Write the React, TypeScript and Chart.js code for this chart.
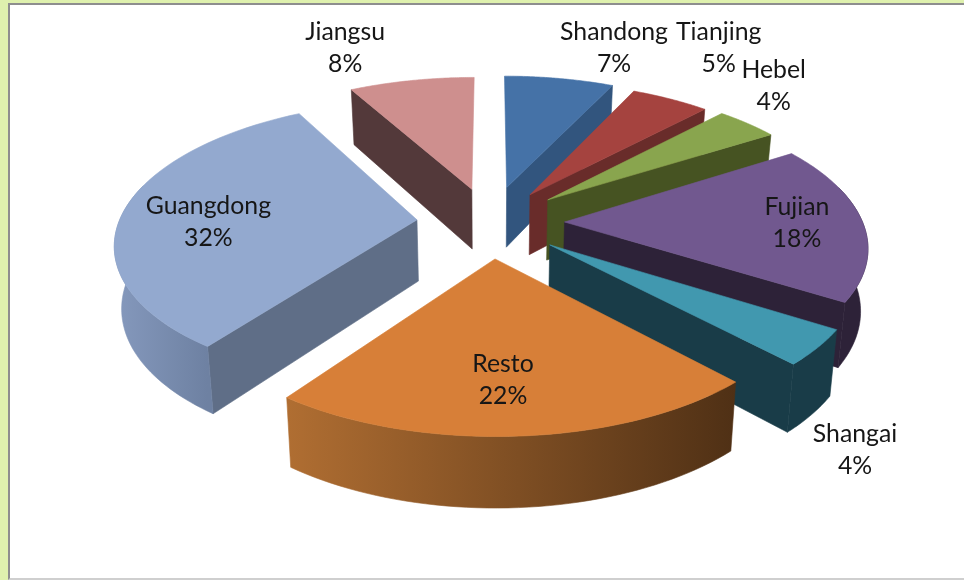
import React, { useEffect, useRef } from "react";
import { Chart, registerables } from "chart.js";

Chart.register(...registerables);

const provinces = ["Shandong", "Tianjing", "Hebel", "Fujian", "Shangai", "Resto", "Guangdong", "Jiangsu"];
const shares = [7, 5, 4, 18, 4, 22, 32, 8];
const explodePx = [68, 63, 66, 64, 65, 66, 63, 65];
const topColors = ["#4572A7", "#A5433F", "#89A54E", "#71588F", "#4198AF", "#D77F38", "#93A9CF", "#CE8F8E"];
const wallColors = ["#32557E", "#692C2A", "#465322", "#2D2238", "#193C48", "#52331A", "#5F6E87", "#53393A"];
const rimFrom = ["#32557E", "#692C2A", "#465322", "#2D2238", "#193C48", "#B06E32", "#8599BD", "#53393A"];
const rimTo = ["#32557E", "#692C2A", "#465322", "#2D2238", "#193C48", "#4F3015", "#6E81A2", "#53393A"];

const labelTurnDeg = [5.6, -3, -6.6, 0, 13.7, 1.4, -3.2, -6.6];
const labelDist = [1.65, 1.835, 1.62, 1.03, 1.64, 0.97, 0.946, 1.68];

const VIEW = { cx: 490, cy: 222, fx: 298, fy: 138, p: 0.152, depth: 62.5, shrink: 0.02 };
const RIM_WRAP = (15 * Math.PI) / 180;

const project = (u: number, v: number, z: number): [number, number] => {
  const w = (1 - VIEW.p * v) * (1 + VIEW.shrink * z);
  return [VIEW.cx + (VIEW.fx * u) / w, VIEW.cy + (VIEW.fy * v + VIEW.depth * z) / w];
};

const tracePath = (ctx: CanvasRenderingContext2D, pts: [number, number][]) => {
  ctx.beginPath();
  pts.forEach(([x, y], i) => (i ? ctx.lineTo(x, y) : ctx.moveTo(x, y)));
  ctx.closePath();
};

const fillPoly = (ctx: CanvasRenderingContext2D, pts: [number, number][], color: any) => {
  tracePath(ctx, pts);
  ctx.fillStyle = color;
  ctx.strokeStyle = color;
  ctx.lineWidth = 0.6;
  ctx.fill();
  ctx.stroke();
};

const slicePlugin = {
  id: "perspectivePie",
  beforeDatasetsDraw(chart: any) {
    const ctx: CanvasRenderingContext2D = chart.ctx;
    const meta = chart.getDatasetMeta(0);
    const slices = meta.data.map((el: any, i: number) => {
      const a0 = el.startAngle + Math.PI / 2;
      const a1 = el.endAngle + Math.PI / 2;
      const mid = (a0 + a1) / 2;
      const r = el.options.offset / el.outerRadius;
      return { i, a0, a1, mid, ax: r * Math.sin(mid), ay: -r * Math.cos(mid) };
    });
    const ordered = [...slices].sort((a, b) => a.ay - b.ay);
    ctx.save();
    for (const s of ordered) {
      const rimPt = (t: number, z: number) => project(s.ax + Math.sin(t), s.ay - Math.cos(t), z);
      const apex = (z: number) => project(s.ax, s.ay, z);
      const wall = (t: number) => fillPoly(ctx, [apex(0), rimPt(t, 0), rimPt(t, 1), apex(1)], wallColors[s.i]);
      if (Math.sin(s.a0) < -1e-3) wall(s.a0);
      if (Math.sin(s.a1) > 1e-3) wall(s.a1);
      const f0 = Math.max(s.a0, Math.PI / 2 - RIM_WRAP);
      const f1 = Math.min(s.a1, (3 * Math.PI) / 2 + RIM_WRAP);
      if (f1 > f0) {
        const top: [number, number][] = [];
        const bot: [number, number][] = [];
        for (let k = 0; k <= 48; k++) {
          const t = f0 + ((f1 - f0) * k) / 48;
          top.push(rimPt(t, 0));
          bot.unshift(rimPt(t, 1));
        }
        const xs = top.map((q) => q[0]);
        const g = ctx.createLinearGradient(Math.min(...xs), 0, Math.max(...xs), 0);
        g.addColorStop(0, rimFrom[s.i]);
        g.addColorStop(1, rimTo[s.i]);
        fillPoly(ctx, [...top, ...bot], g);
      }
      const face: [number, number][] = [apex(0)];
      for (let k = 0; k <= 64; k++) face.push(rimPt(s.a0 + ((s.a1 - s.a0) * k) / 64, 0));
      fillPoly(ctx, face, topColors[s.i]);
    }
    ctx.font = "24.8px Lato";
    ctx.textAlign = "center";
    ctx.textBaseline = "middle";
    ctx.fillStyle = "#161616";
    for (const s of slices) {
      const t = s.mid + (labelTurnDeg[s.i] * Math.PI) / 180;
      const [x, y] = project(labelDist[s.i] * Math.sin(t), -labelDist[s.i] * Math.cos(t), 0);
      ctx.fillText(provinces[s.i], x, y - 15);
      ctx.fillText(`${shares[s.i]}%`, x, y + 17);
    }
    ctx.restore();
    return false;
  },
};

export default function App() {
  const ref = useRef<HTMLCanvasElement>(null);
  useEffect(() => {
    document.body.style.margin = "0";
    const chart = new Chart(ref.current!, {
      type: "pie",
      data: {
        labels: provinces,
        datasets: [{ data: shares, backgroundColor: topColors, offset: explodePx, borderWidth: 0 }],
      },
      options: {
        responsive: false,
        animation: false,
        rotation: 0,
        plugins: { legend: { display: false }, tooltip: { enabled: false } },
      },
      plugins: [slicePlugin],
    } as any);
    return () => chart.destroy();
  }, []);
  return (
    <div style={{ position: "fixed", left: 0, top: 0, width: 964, height: 580, overflow: "hidden", background: "#DFF1AE" }}>
      <div
        style={{
          position: "absolute",
          left: 8,
          top: 3,
          right: 0,
          bottom: 0,
          boxSizing: "border-box",
          background: "#fff",
          borderLeft: "2px solid #8E8E8E",
          borderTop: "2px solid #8E8E8E",
          borderBottom: "2px solid #CFCFCF",
        }}
      />
      <canvas ref={ref} width={964} height={580} style={{ position: "absolute", left: 0, top: 0, display: "block" }} />
    </div>
  );
}
